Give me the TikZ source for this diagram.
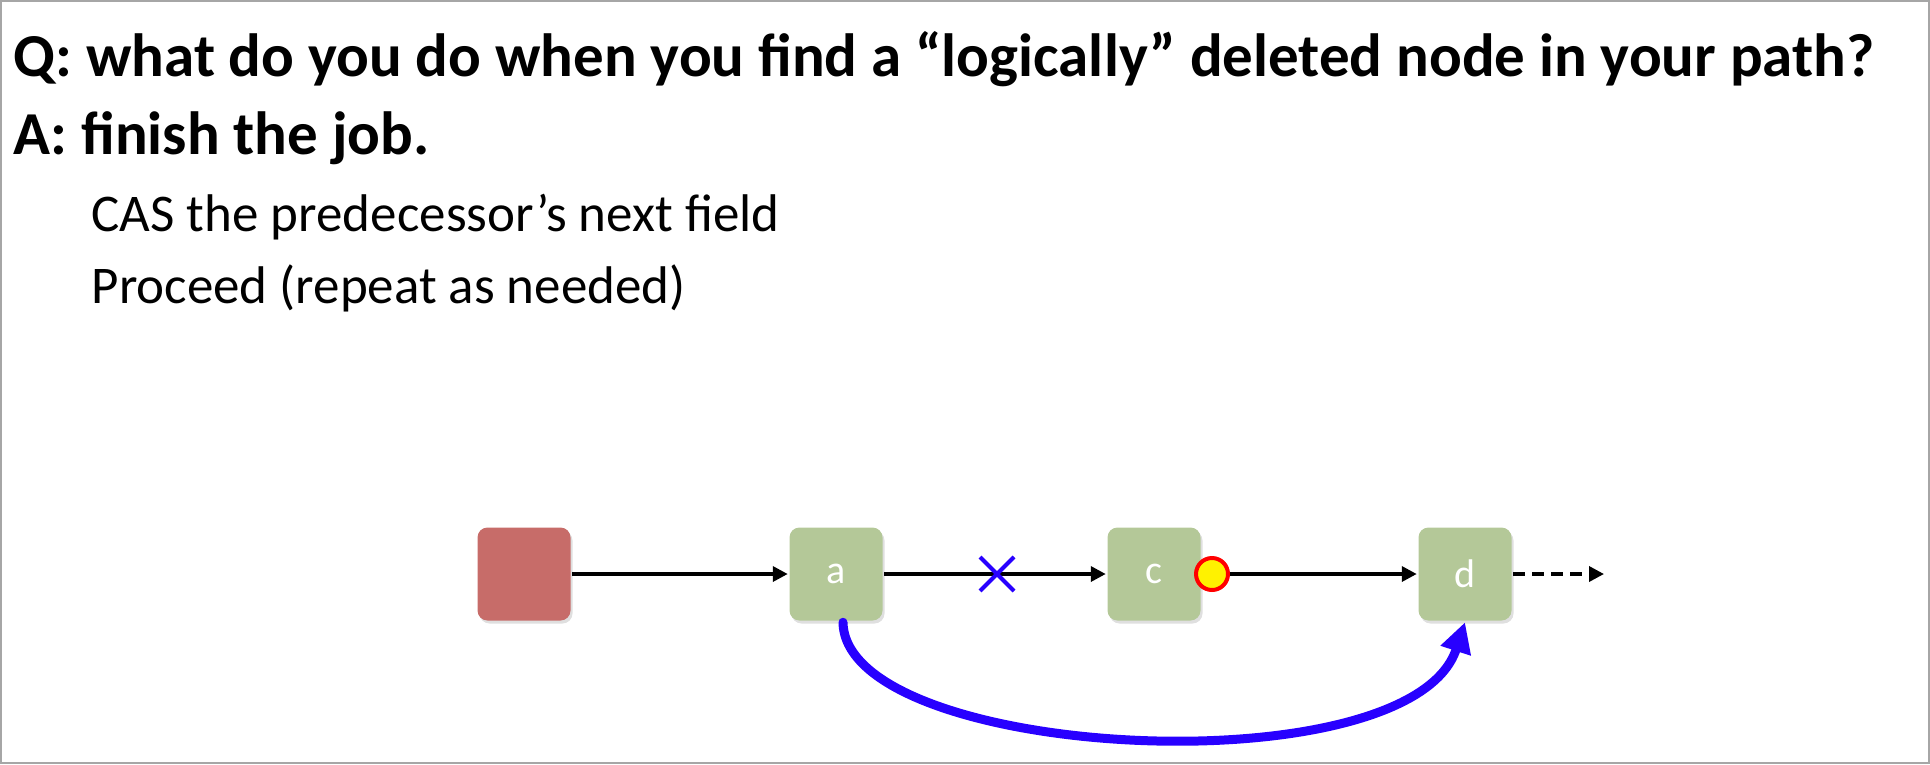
\documentclass[tikz,border=0pt]{standalone}
\usepackage{fontspec}
\setmainfont{Carlito}
\usetikzlibrary{arrows.meta,shapes.misc,shadows}

\definecolor{nodeGreen}{RGB}{180,200,152}
\definecolor{headRed}{RGB}{199,108,105}
\definecolor{casBlue}{RGB}{40,0,255}

\tikzset{every picture/.style={line width=3.5pt},
        listNode/.style={rounded corners=10pt, minimum size=93pt, inner sep=0pt, fill=nodeGreen, text=white,
                         font=\fontsize{40}{44}\selectfont,
                         drop shadow={opacity=0.25, shadow xshift=2pt, shadow yshift=-3pt}},
        nextArrow/.style={-{Triangle[length=15pt,width=15pt]}},
        lineText/.style={anchor=base west, inner sep=0pt}}

\begin{document}
\begin{tikzpicture}[x=1pt, y=-1pt]

% frame
\useasboundingbox (0,0) rectangle (1930,764);
\draw[gray!70, line width=2pt] (1,1) rectangle (1929,763);

% text lines
\node[lineText, font=\fontsize{61}{70}\selectfont\bfseries] (q) at (12,76) {Q: what do you do when you find a “logically” deleted node in your path?};
\node[lineText, font=\fontsize{61}{70}\selectfont\bfseries] (ans) at (12,154) {A: finish the job.};
\node[lineText, font=\fontsize{53}{60}\selectfont] (cas) at (90,231) {CAS the predecessor’s next field};
\node[lineText, font=\fontsize{53}{60}\selectfont] (go) at (90,303) {Proceed (repeat as needed)};

% draw nodes
\node[listNode, fill=headRed] (head) at (524,574) {};
\node[listNode] (a) at (836,574) {a};
\node[listNode] (c) at (1154,574) {c};
\node[listNode] (d) at (1465,574) {d};
\coordinate (tail) at (1604,574);

% draw necessary paths
\draw[nextArrow] (head) -- (a);
\draw[nextArrow] (a) -- (c);
\draw[nextArrow, dash pattern=on 12pt off 7pt] (d) -- (tail);

% logical deletion mark
\node[circle, fill=yellow, draw=red, line width=4pt, minimum size=32pt, inner sep=0pt] (mark) at (1212,574) {};
\draw[nextArrow] (mark) -- (d);

% cut pointer
\node[cross out, draw=casBlue, line width=4pt, minimum size=30pt, inner sep=0pt] (cut) at (997,574) {};

% CAS arc
\draw[casBlue, line width=9pt, line cap=round, -{Triangle[length=30pt,width=30pt]}]
    ([xshift=7pt]a.south) .. controls (845,760) and (1410,790) .. (d.south);

\end{tikzpicture}
\end{document}
